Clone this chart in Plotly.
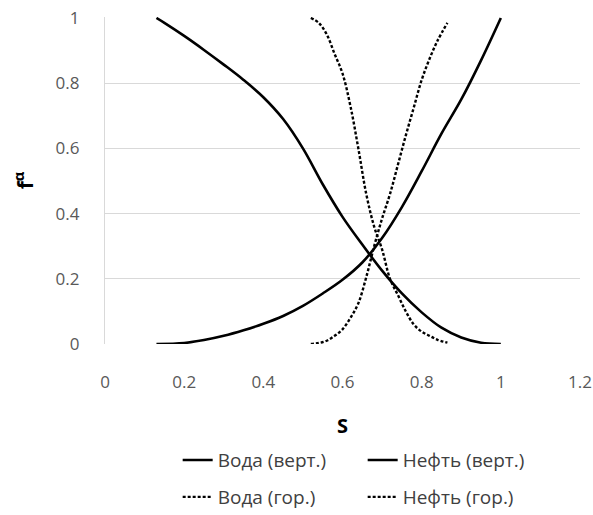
import plotly.graph_objects as go

# Вода (верт.) — solid rising
s_wv = [0.13, 0.2, 0.25, 0.3, 0.35, 0.4, 0.45, 0.5, 0.55, 0.6, 0.65, 0.7, 0.75, 0.8, 0.85, 0.9, 0.95, 1.0]
f_wv = [0.0, 0.003, 0.012, 0.025, 0.042, 0.062, 0.086, 0.117, 0.155, 0.197, 0.25, 0.325, 0.42, 0.53, 0.645, 0.75, 0.87, 1.0]

# Нефть (верт.) — solid falling
s_ov = [0.13, 0.15, 0.2, 0.25, 0.3, 0.35, 0.4, 0.45, 0.5, 0.55, 0.6, 0.65, 0.7, 0.75, 0.8, 0.85, 0.9, 0.95, 1.0]
f_ov = [1.0, 0.985, 0.945, 0.902, 0.857, 0.81, 0.757, 0.69, 0.60, 0.49, 0.39, 0.305, 0.225, 0.155, 0.097, 0.05, 0.02, 0.004, 0.0]

# Вода (гор.) — dotted rising
s_wh = [0.52, 0.54, 0.56, 0.58, 0.60, 0.62, 0.64, 0.66, 0.68, 0.70, 0.72, 0.74, 0.76, 0.78, 0.80, 0.82, 0.84, 0.865]
f_wh = [0.0, 0.003, 0.01, 0.025, 0.045, 0.08, 0.125, 0.205, 0.30, 0.385, 0.46, 0.55, 0.64, 0.725, 0.81, 0.875, 0.93, 0.985]

# Нефть (гор.) — dotted falling
s_oh = [0.52, 0.54, 0.56, 0.58, 0.60, 0.62, 0.64, 0.66, 0.68, 0.70, 0.72, 0.74, 0.76, 0.78, 0.80, 0.82, 0.84, 0.865]
f_oh = [1.0, 0.985, 0.95, 0.89, 0.83, 0.73, 0.60, 0.46, 0.36, 0.29, 0.20, 0.15, 0.10, 0.06, 0.038, 0.025, 0.013, 0.004]

x_ticks = [0, 0.2, 0.4, 0.6, 0.8, 1, 1.2]
x_tick_labels = ["0", "0.2", "0.4", "0.6", "0.8", "1", "1.2"]
y_ticks = [0, 0.2, 0.4, 0.6, 0.8, 1]
y_tick_labels = ["0", "0.2", "0.4", "0.6", "0.8", "1"]

FONT = "Open Sans"
DOT = "3px,2px"
fig = go.Figure()
fig.add_trace(go.Scatter(x=s_wv, y=f_wv, mode="lines", name="Вода (верт.)",
                         line=dict(color="black", width=2.6, shape="spline"), legend="legend"))
fig.add_trace(go.Scatter(x=s_ov, y=f_ov, mode="lines", name="Нефть (верт.)",
                         line=dict(color="black", width=2.6, shape="spline"), legend="legend"))
fig.add_trace(go.Scatter(x=s_wh, y=f_wh, mode="lines", name="Вода (гор.)",
                         line=dict(color="black", width=2.4, dash=DOT, shape="spline"), legend="legend2"))
fig.add_trace(go.Scatter(x=s_oh, y=f_oh, mode="lines", name="Нефть (гор.)",
                         line=dict(color="black", width=2.4, dash=DOT, shape="spline"), legend="legend2"))

fig.update_layout(
    width=593, height=515,
    margin=dict(l=105, r=13, t=17, b=171, autoexpand=False),
    paper_bgcolor="white", plot_bgcolor="white",
    font=dict(family=FONT, size=17, color="#595959"),
    xaxis=dict(range=[0, 1.2], tickvals=x_ticks, ticktext=x_tick_labels,
               showgrid=False, zeroline=False, showline=False, automargin=False,
               ticks="", ticklabelstandoff=26,
               tickfont=dict(family=FONT, size=17, color="#595959"),
               title=dict(text="<b>S</b>", font=dict(family=FONT, size=20, color="black"), standoff=26)),
    yaxis=dict(range=[0, 1.003], tickvals=y_ticks, ticktext=y_tick_labels,
               showgrid=True, gridcolor="#d9d9d9", gridwidth=1.3, automargin=False,
               zeroline=False, showline=True, linecolor="#d9d9d9", linewidth=1.3,
               ticks="", ticklabelstandoff=21,
               tickfont=dict(family=FONT, size=17, color="#595959"),
               title=dict(text="<b>f<sup>α</sup></b>", font=dict(family=FONT, size=21, color="black"), standoff=16)),
    legend=dict(orientation="h", x=0.153, y=-0.355, xanchor="left", yanchor="middle",
                entrywidth=140, font=dict(family=FONT, size=19, color="#404040"),
                bgcolor="rgba(0,0,0,0)"),
    legend2=dict(orientation="h", x=0.153, y=-0.468, xanchor="left", yanchor="middle",
                 entrywidth=140, font=dict(family=FONT, size=19, color="#404040"),
                 bgcolor="rgba(0,0,0,0)"),
)
fig.write_html("out.html")
